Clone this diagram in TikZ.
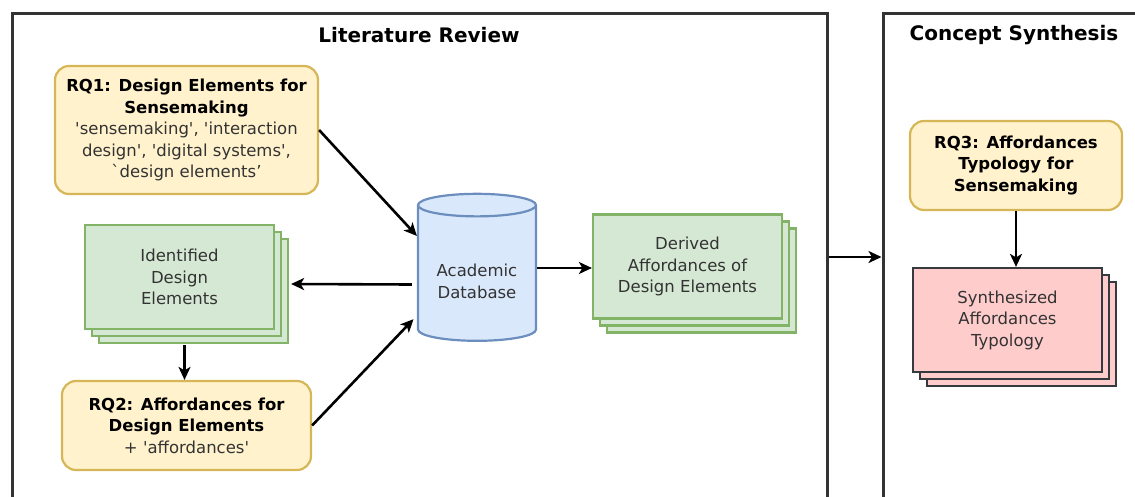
\documentclass[tikz,border=0pt]{standalone}
\usepackage{fontspec}
\setmainfont{DejaVu Sans}[Ligatures=TeXOff]
\usetikzlibrary{arrows.meta,shapes.geometric,shadows}

\definecolor{yfill}{HTML}{FFF2CC}
\definecolor{ydraw}{HTML}{D6B656}
\definecolor{gfill}{HTML}{D5E8D4}
\definecolor{gdraw}{HTML}{82B366}
\definecolor{bfill}{HTML}{DAE8FC}
\definecolor{bdraw}{HTML}{6C8EBF}
\definecolor{rfill}{HTML}{FFCCCC}
\definecolor{rdraw}{HTML}{36393D}
\definecolor{txt}{HTML}{333333}

\newcommand{\rqhead}[1]{\textcolor{black}{\textbf{#1}}}

\tikzset{
  box/.style={draw, line width=2.2pt, align=center, text=txt, inner sep=0pt,
    font=\fontsize{16.5}{21.5}\selectfont},
  rq/.style={box, rounded corners=14pt, fill=yfill, draw=ydraw},
  stackbox/.style={box, minimum width=189, minimum height=104,
    copy shadow={shadow xshift=14pt, shadow yshift=-14pt, line width=2.2pt},
    copy shadow={shadow xshift=7pt, shadow yshift=-7pt, line width=2.2pt}},
  frame/.style={draw=black!80, line width=3pt},
  ttl/.style={font=\fontsize{20}{24}\selectfont\bfseries},
  arr/.style={->, line width=2.6pt, >={Stealth[length=13pt, width=12pt, inset=3.5pt]}}
}

\begin{document}
\begin{tikzpicture}[x=1pt, y=-1pt]
  \useasboundingbox (0,0) rectangle (1135,496);

  % frames
  \node[frame, minimum width=815, minimum height=488] (lit) at (419.5,257) {};
  \node[frame, minimum width=277, minimum height=488] (con) at (1021.5,257) {};
  \node[ttl] (litT) at (419,35) {Literature Review};
  \node[ttl] (conT) at (1014,35) {Concept Synthesis};

  \node[rq, minimum width=263, minimum height=128] (rq1) at (186.5,130)
    {\rqhead{RQ1: Design Elements for}\\\rqhead{Sensemaking}\\
     'sensemaking', 'interaction\\design', 'digital systems',\\`design elements’};
  \node[stackbox, fill=gfill, draw=gdraw] (ide) at (179.5,277)
    {Identified\\Design\\Elements};
  \node[rq, minimum width=249, minimum height=89] (rq2) at (186.5,425.5)
    {\rqhead{RQ2: Affordances for}\\\rqhead{Design Elements}\\+ 'affordances'};
  \node[box, cylinder, shape border rotate=90, aspect=0.28, fill=bfill, draw=bdraw,
    minimum width=118, minimum height=147] (db) at (477,273.5)
    {\mbox{}\\[6.5pt]Academic\\Database};
  \node[stackbox, fill=gfill, draw=gdraw] (der) at (687.5,266.5)
    {Derived\\Affordances of\\Design Elements};

  \node[rq, minimum width=212, minimum height=89] (rq3) at (1016,165.5)
    {\rqhead{RQ3: Affordances}\\\rqhead{Typology for}\\\rqhead{Sensemaking}};
  \node[stackbox, fill=rfill, draw=rdraw] (syn) at (1007.5,320)
    {Synthesized\\Affordances\\Typology};

  \path[arr]
  (rq1.east) edge (db.148)
  (rq2.east) edge[shorten >=5pt] (db.215)
  ([shift={(-5,11)}]db.west) edge ([shift={(16,7)}]ide.east)
  ([shift={(5,15)}]ide.south) edge ([xshift=-2pt]rq2.north)
  ([yshift=5.5pt]db.east) edge ([yshift=5.5pt]db.east -| der.west)
  (lit.east) edge (con.west)
  (rq3.south) edge (rq3.south |- syn.north);
\end{tikzpicture}
\end{document}
